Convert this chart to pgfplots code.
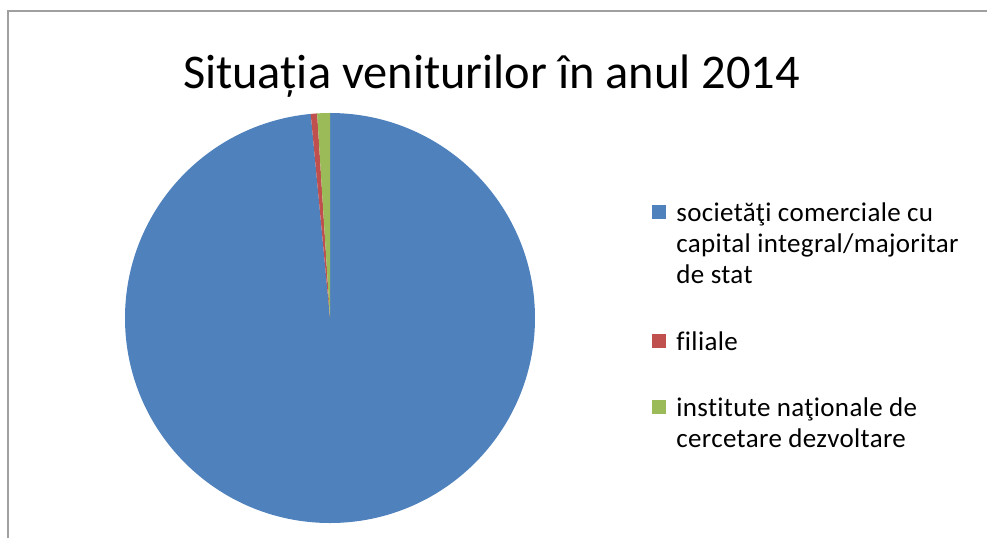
\documentclass[border=0pt]{standalone}
\usepackage{pgfplots}
\pgfplotsset{compat=1.18}
\usepackage{pgfplotstable}
\usepackage{fontspec}
\setmainfont{Carlito}
\newfontfamily\legendfont[LetterSpace=1.3,Ligatures=NoCommon]{Carlito}

\definecolor{xlblue}{HTML}{4F81BD}
\definecolor{xlred}{HTML}{C0504D}
\definecolor{xlgreen}{HTML}{9BBB59}
\definecolor{framegray}{RGB}{160,160,160}

% venituri 2014, procente
\pgfplotstableread[col sep=comma]{
cat,share
1,98.5
2,0.5
3,1.0
}\venituri

\pgfplotstablegetelem{0}{share}\of\venituri \pgfmathsetmacro\dA{-3.6*\pgfplotsretval}
\pgfplotstablegetelem{1}{share}\of\venituri \pgfmathsetmacro\dB{-3.6*\pgfplotsretval}
\pgfplotstablegetelem{2}{share}\of\venituri \pgfmathsetmacro\dC{-3.6*\pgfplotsretval}
\pgfmathsetmacro\sB{90+\dA}
\pgfmathsetmacro\sC{90+\dA+\dB}

\begin{document}
\begin{tikzpicture}[x=0.5pt,y=-0.5pt]
\useasboundingbox (0,0) rectangle (987,538);
\draw[framegray, line width=1pt] (8,538) -- (8,11) -- (987,11);

\node[anchor=base, inner sep=0pt, font=\fontsize{24.2}{29}\selectfont]
  at (491.5,88) {Situația veniturilor în anul 2014};

\begin{axis}[
  at={(165pt,-159pt)}, anchor=origin,
  x=0.5pt, y=0.5pt,
  xmin=-210, xmax=210, ymin=-210, ymax=210,
  hide axis, clip=false,
]
\fill[xlblue] (axis cs:0,0) -- (axis cs:0,205)
  arc[start angle=90, delta angle=\dA, radius=102.5pt] -- cycle;
\fill[xlred] (axis cs:0,0) -- ++(\sB:102.5pt)
  arc[start angle=\sB, delta angle=\dB, radius=102.5pt] -- cycle;
\fill[xlgreen] (axis cs:0,0) -- ++(\sC:102.5pt)
  arc[start angle=\sC, delta angle=\dC, radius=102.5pt] -- cycle;
\end{axis}

% legend
\fill[xlblue] (652,205) rectangle (666,219);
\fill[xlred] (652,334) rectangle (666,348);
\fill[xlgreen] (652,400) rectangle (666,414);
\begin{scope}[every node/.style={anchor=base west, inner sep=0pt, align=left,
    font=\legendfont\fontsize{13.5}{15.5}\selectfont}]
\node at (676,283) {societăţi comerciale cu\\capital integral/majoritar\\de stat};
\node at (676,350) {filiale};
\node at (676,447) {institute naţionale de\\cercetare dezvoltare};
\end{scope}
\end{tikzpicture}
\end{document}
